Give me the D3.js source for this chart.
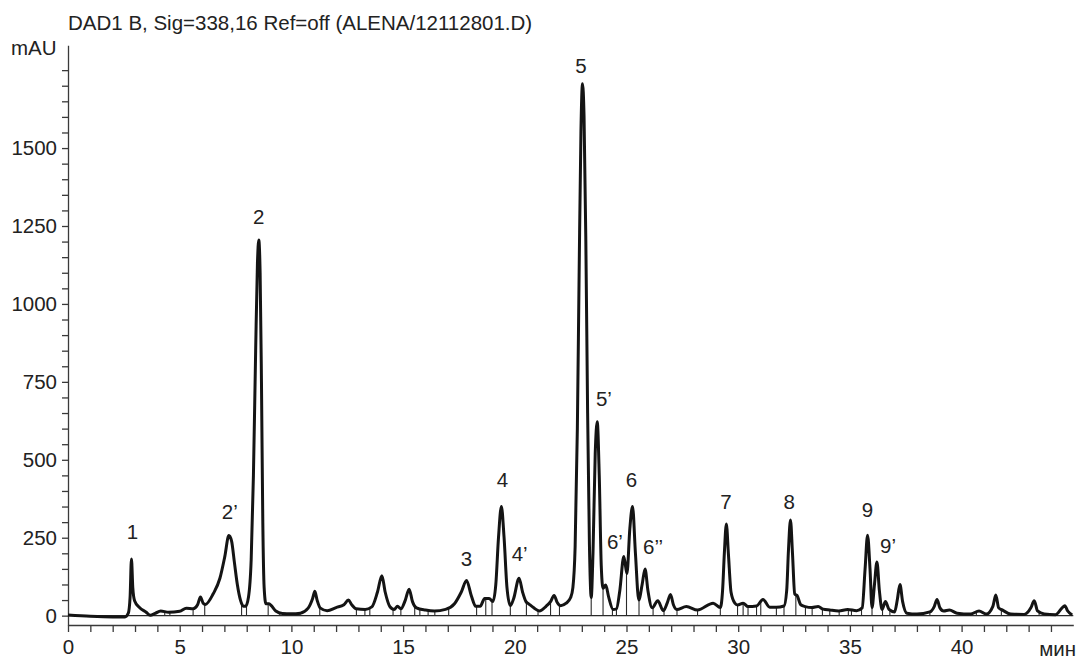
<!DOCTYPE html>
<html>
<head>
<meta charset="utf-8">
<script src="https://cdn.jsdelivr.net/npm/d3@7"></script>
<style>
  body { margin: 0; background: #fff; }
  svg { display: block; font-family: "Liberation Sans", Arial, sans-serif; }
  .axis path, .axis line { stroke: #3a3a3a; stroke-width: 1.3; }
  .axis text { font-size: 20.5px; fill: #222; }
</style>
</head>
<body>
<svg width="1082" height="660"></svg>
<script>
const width = 1082;
const height = 660;

const title = "DAD1 B, Sig=338,16 Ref=off (ALENA/12112801.D)";
const yUnit = "mAU";
const xUnit = "мин";

// signal: [time, mAU]
const signal = [
  [0, 2], [1, -2], [2, -4], [2.55, -4], [2.7, 8], [2.78, 60], [2.84, 182], [2.9, 90],
  [2.98, 48], [3.2, 26], [3.5, 11], [3.68, 1], [3.9, 7], [4.15, 15], [4.5, 11], [5.0, 14],
  [5.3, 24], [5.6, 22], [5.8, 35], [5.93, 60], [6.05, 40], [6.15, 36], [6.5, 70], [6.8, 120],
  [7.02, 190], [7.2, 257], [7.32, 240], [7.45, 170], [7.58, 100], [7.72, 50], [7.85, 30],
  [7.95, 30], [8.08, 60], [8.2, 180], [8.3, 450], [8.4, 850], [8.48, 1130], [8.54, 1205],
  [8.6, 1100], [8.66, 750], [8.72, 300], [8.78, 90], [8.86, 38], [9.0, 38], [9.1, 32],
  [9.3, 15], [9.6, 7], [10.0, 6], [10.4, 8], [10.75, 24], [10.95, 55], [11.05, 78],
  [11.15, 50], [11.3, 24], [11.6, 16], [12.0, 26], [12.35, 35], [12.55, 50], [12.7, 35],
  [12.9, 22], [13.3, 20], [13.6, 28], [13.85, 75], [14.05, 128], [14.2, 75], [14.4, 30],
  [14.6, 20], [14.75, 30], [14.9, 22], [15.1, 50], [15.27, 85], [15.42, 45], [15.6, 25],
  [16.0, 18], [16.4, 15], [16.9, 20], [17.3, 38], [17.6, 75], [17.84, 113], [18.05, 65],
  [18.25, 30], [18.45, 30], [18.65, 55], [18.85, 55], [19.02, 45], [19.15, 100],
  [19.27, 250], [19.4, 350], [19.52, 250], [19.65, 90], [19.8, 32], [19.95, 55],
  [20.19, 120], [20.35, 75], [20.5, 45], [20.62, 38], [20.85, 25], [21.1, 15], [21.4, 30],
  [21.6, 45], [21.76, 65], [21.9, 42], [22.05, 32], [22.3, 40], [22.5, 58], [22.6, 90],
  [22.7, 220], [22.8, 600], [22.88, 1100], [22.96, 1550], [23.03, 1706], [23.1, 1600],
  [23.18, 1200], [23.26, 650], [23.34, 230], [23.42, 58], [23.5, 200], [23.6, 520],
  [23.69, 622], [23.78, 450], [23.87, 160], [23.95, 88], [24.07, 98], [24.2, 60],
  [24.4, 20], [24.55, 22], [24.7, 80], [24.88, 190], [25.02, 135], [25.15, 280],
  [25.27, 350], [25.4, 200], [25.55, 50], [25.7, 100], [25.83, 150], [25.96, 80],
  [26.15, 25], [26.4, 48], [26.65, 16], [26.82, 40], [26.97, 68], [27.1, 35], [27.25, 20],
  [27.68, 29], [28.18, 18], [28.88, 40], [29.2, 26], [29.3, 80], [29.38, 200], [29.47, 294],
  [29.56, 200], [29.68, 75], [29.85, 40], [29.97, 34], [30.22, 40], [30.44, 29], [30.82, 31],
  [31.11, 52], [31.41, 27], [31.71, 27], [32.05, 31], [32.17, 80], [32.25, 210], [32.34, 307],
  [32.43, 200], [32.53, 70], [32.64, 64], [32.8, 35], [33.0, 29], [33.3, 26], [33.58, 29],
  [33.8, 21], [34.1, 18], [34.5, 15], [34.9, 20], [35.3, 16], [35.55, 25], [35.68, 150],
  [35.79, 258], [35.9, 150], [35.99, 26], [36.1, 100], [36.21, 172], [36.32, 80],
  [36.44, 20], [36.59, 45], [36.75, 20], [37.0, 12], [37.12, 50], [37.24, 100],
  [37.36, 45], [37.55, 8], [38.0, 5], [38.58, 12], [38.78, 30], [38.9, 52], [39.03, 25],
  [39.2, 15], [39.45, 18], [39.8, 8], [40.4, 5], [40.78, 15], [41.1, 5], [41.4, 30],
  [41.53, 66], [41.66, 25], [41.85, 17], [42.2, 5], [42.8, 4], [43.1, 25], [43.25, 48],
  [43.4, 15], [43.7, 5], [44.2, 3], [44.5, 25], [44.62, 32], [44.75, 15], [44.95, 2]
];

// integration marks (baseline drops), minutes
const dropTimes = [
  3.67, 4.33, 4.56, 5.6, 6.12, 7.77, 7.99, 8.96, 9.48, 9.78, 9.93, 10.38, 11.27, 12.91,
  13.29, 13.51, 14.55, 14.9, 15.52, 15.75, 16.12, 16.42, 17.04, 18.29, 18.7, 18.98, 19.8,
  20.52, 21.04, 21.6, 22.0, 23.42, 23.95, 24.37, 24.55, 25.0, 25.56, 26.19, 26.68, 27.26,
  28.18, 29.2, 29.97, 30.22, 30.44, 30.82, 31.01, 31.71, 32.05, 32.58, 33.01, 33.31,
  33.77, 34.1, 34.52, 34.93, 35.07, 35.52, 35.99, 36.46, 36.79, 38.05, 38.58, 39.99,
  40.2, 40.44, 40.66, 41.07, 41.78, 42.15, 42.45, 43.47, 43.95
];

// peak labels: [text, time, mAU] where the label sits
const peakLabels = [
  ["1", 2.89, 269], ["2’", 7.24, 334], ["2", 8.54, 1279], ["3", 17.84, 184],
  ["4", 19.45, 435], ["4’", 20.22, 198], ["5", 22.96, 1764], ["5’", 23.99, 697],
  ["6’", 24.48, 237], ["6", 25.22, 435], ["6’’", 26.19, 221], ["7", 29.45, 366],
  ["8", 32.28, 366], ["9", 35.79, 339], ["9’", 36.71, 224]
];

const xMajor = [0, 5, 10, 15, 20, 25, 30, 35, 40];
const yMajor = [0, 250, 500, 750, 1000, 1250, 1500];

const svg = d3.select("svg").attr("viewBox", `0 0 ${width} ${height}`);

const x = d3.scaleLinear().domain([0, 45]).range([68, 1073.3]);
const y = d3.scaleLinear().domain([-30, 1830]).range([625, 45.2]);

// axes
svg.append("g")
    .attr("class", "axis")
    .attr("transform", `translate(${x(0)},0)`)
    .call(d3.axisLeft(y)
        .tickValues(d3.range(0, 1751, 50))
        .tickSize(6)
        .tickSizeOuter(0)
        .tickPadding(5)
        .tickFormat(d => yMajor.includes(d) ? d : ""));

svg.append("g")
    .attr("class", "axis")
    .attr("transform", `translate(0,${y(-30)})`)
    .call(d3.axisBottom(x)
        .tickValues(d3.range(0, 45, 1))
        .tickSize(7)
        .tickSizeOuter(0)
        .tickPadding(7)
        .tickFormat(d => xMajor.includes(d) ? d : ""));

// zero baseline
svg.append("line")
    .attr("x1", x(0)).attr("x2", x(45))
    .attr("y1", y(0)).attr("y2", y(0))
    .attr("stroke", "#2a2a2a").attr("stroke-width", 1.3);

// drop lines, top taken from the trace
const bis = d3.bisector(d => d[0]).left;
function valueAt(t) {
    const i = Math.max(1, Math.min(signal.length - 1, bis(signal, t)));
    const a = signal[i - 1], b = signal[i];
    return a[1] + (b[1] - a[1]) * (t - a[0]) / (b[0] - a[0]);
}

svg.append("g")
    .selectAll("line")
    .data(dropTimes)
    .join("line")
    .attr("x1", d => x(d)).attr("x2", d => x(d))
    .attr("y1", y(0)).attr("y2", d => y(valueAt(d)))
    .attr("stroke", "#2a2a2a").attr("stroke-width", 1.1);

// trace
const line = d3.line()
    .x(d => x(d[0]))
    .y(d => y(d[1]))
    .curve(d3.curveMonotoneX);

svg.append("path")
    .datum(signal)
    .attr("fill", "none")
    .attr("stroke", "#141414")
    .attr("stroke-width", 3)
    .attr("stroke-linejoin", "round")
    .attr("d", line);

// peak labels
svg.append("g")
    .selectAll("text")
    .data(peakLabels)
    .join("text")
    .attr("x", d => x(d[1]))
    .attr("y", d => y(d[2]))
    .attr("dy", "0.36em")
    .attr("text-anchor", "middle")
    .attr("font-size", 20.5)
    .attr("fill", "#222")
    .text(d => d[0]);

// titles
svg.append("text")
    .attr("x", 68).attr("y", 30)
    .attr("font-size", 20.5).attr("fill", "#222")
    .text(title);

svg.append("text")
    .attr("x", 11).attr("y", 55)
    .attr("font-size", 20.5).attr("fill", "#222")
    .text(yUnit);

svg.append("text")
    .attr("x", 1076).attr("y", 656)
    .attr("text-anchor", "end")
    .attr("font-size", 20.5).attr("fill", "#222")
    .text(xUnit);
</script>
</body>
</html>
